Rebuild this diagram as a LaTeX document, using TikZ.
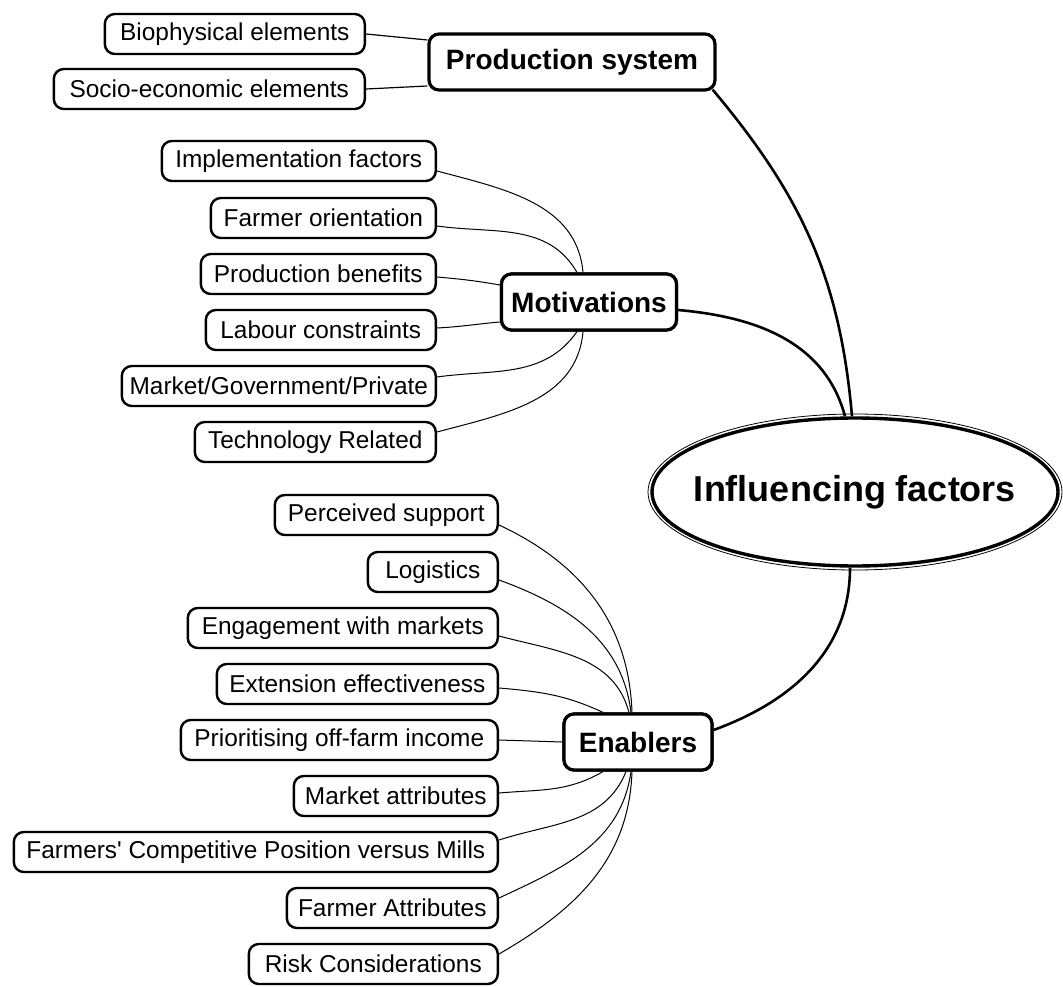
\documentclass[tikz,border=0pt]{standalone}
\usepackage{fontspec}
\setmainfont{Liberation Sans}
\usetikzlibrary{shapes.geometric}
\begin{document}
\begin{tikzpicture}[x=1pt,y=-1pt,
 leaf/.style={draw, line width=2.4pt, rounded corners=10pt, fill=white, minimum height=40pt, inner xsep=0pt, inner ysep=0pt, font=\fontsize{24.4}{28}\selectfont, anchor=east},
 hub/.style={draw, line width=3.2pt, rounded corners=10pt, fill=white, minimum height=56pt, inner sep=0pt, font=\fontsize{28}{33}\selectfont\bfseries},
 twig/.style={line width=1pt},
 branch/.style={line width=2.6pt}]
\useasboundingbox (0,0) rectangle (1063,987);

% central ellipse
\node[ellipse, draw, line width=3.4pt, minimum width=406pt, minimum height=148pt, inner sep=0pt, fill=white,
      label={[font=\fontsize{36}{41}\selectfont\bfseries]center:Influencing factors}] (infl) at (855,492) {};
\draw[line width=0.8pt] (infl.center) ellipse[x radius=207pt, y radius=78pt];

\node[hub, minimum width=286pt] (prod) at (572,62) {Production system};
\node[hub, minimum width=175pt] (motiv) at (589,302) {Motivations};
\node[hub, minimum width=148pt] (enab) at (638,742) {Enablers};

\draw[branch] ([xshift=-4pt,yshift=2pt]prod.south east) to[out=-50,in=95] ([xshift=-3pt]infl.north);
\draw[branch] ([yshift=-8pt]motiv.east) to[out=-5,in=105] ([xshift=-10pt]infl.north);
\draw[branch] ([yshift=12pt]enab.east) to[out=20,in=-90] ([xshift=-5pt]infl.south);

% production system leaves
\node[leaf, minimum width=260pt] (bio) at (366,34) {Biophysical elements};
\node[leaf, minimum width=311pt] (socio) at (366,89) {Socio-economic elements};
\draw[line width=1.2pt] (bio.east) -- ([yshift=22pt]prod.west);
\draw[line width=1.2pt] (socio.east) -- ([yshift=-24pt]prod.west);

% motivations leaves
\node[leaf, minimum width=274pt] (impl) at (437,161) {Implementation factors};
\node[leaf, minimum width=225pt] (forient) at (437,218) {Farmer orientation};
\node[leaf, minimum width=235pt] (pben) at (437,274) {Production benefits};
\node[leaf, minimum width=230pt] (labour) at (437,330) {Labour constraints};
\node[leaf, minimum width=314pt] (mgp) at (437,386) {Market/Government/Private};
\node[leaf, minimum width=241pt] (tech) at (437,442) {Technology Related};

\draw[twig] ([yshift=-10pt]impl.east) to[out=-15,in=95] ([xshift=-6pt]motiv.north);
\draw[twig] ([yshift=-8pt]forient.east) to[out=-8,in=120] ([xshift=-12pt]motiv.north);
\draw[twig] ([yshift=-3pt]pben.east) to[out=-5,in=170] ([yshift=17pt]motiv.west);
\draw[twig] ([yshift=2pt]labour.east) to[out=3,in=185] ([yshift=-20pt]motiv.west);
\draw[twig] ([yshift=9pt]mgp.east) to[out=8,in=-125] ([xshift=-12pt]motiv.south);
\draw[twig] ([yshift=10pt]tech.east) to[out=15,in=-95] ([xshift=-6pt]motiv.south);

% enablers leaves
\node[leaf, minimum width=223pt] (perc) at (499,515) {Perceived support};
\node[leaf, minimum width=130pt] (logi) at (499,572) {Logistics};
\node[leaf, minimum width=310pt] (engage) at (499,628) {Engagement with markets};
\node[leaf, minimum width=281pt] (ext) at (499,684) {Extension effectiveness};
\node[leaf, minimum width=317pt] (prior) at (499,740) {Prioritising off-farm income};
\node[leaf, minimum width=204pt] (mattr) at (499,796) {Market attributes};
\node[leaf, minimum width=484pt] (fcomp) at (499,852) {Farmers\textquotesingle{} Competitive Position versus Mills};
\node[leaf, minimum width=211pt] (fattr) at (499,908) {Farmer Attributes};
\node[leaf, minimum width=249pt] (risk) at (499,964) {Risk Considerations};

\draw[twig] ([yshift=-10pt]perc.east) to[out=-25,in=92] ([xshift=-6pt]enab.north);
\draw[twig] ([yshift=-8pt]logi.east) to[out=-20,in=97] ([xshift=-7pt]enab.north);
\draw[twig] ([yshift=-8pt]engage.east) to[out=-15,in=105] ([xshift=-9pt]enab.north);
\draw[twig] ([yshift=-4pt]ext.east) to[out=-5,in=155] ([xshift=-35pt]enab.north);
\draw[twig] (prior.east) -- (enab.west);
\draw[twig] ([yshift=3pt]mattr.east) to[out=5,in=-150] ([xshift=-35pt]enab.south);
\draw[twig] ([yshift=12pt]fcomp.east) to[out=18,in=-112] ([xshift=-12pt]enab.south);
\draw[twig] ([yshift=10pt]fattr.east) to[out=25,in=-98] ([xshift=-7pt]enab.south);
\draw[twig] ([yshift=10pt]risk.east) to[out=30,in=-92] ([xshift=-6pt]enab.south);

% redraw hubs over connector ends
\node[hub, minimum width=175pt] at (motiv.center) {Motivations};
\node[hub, minimum width=148pt] at (enab.center) {Enablers};
\end{tikzpicture}
\end{document}
